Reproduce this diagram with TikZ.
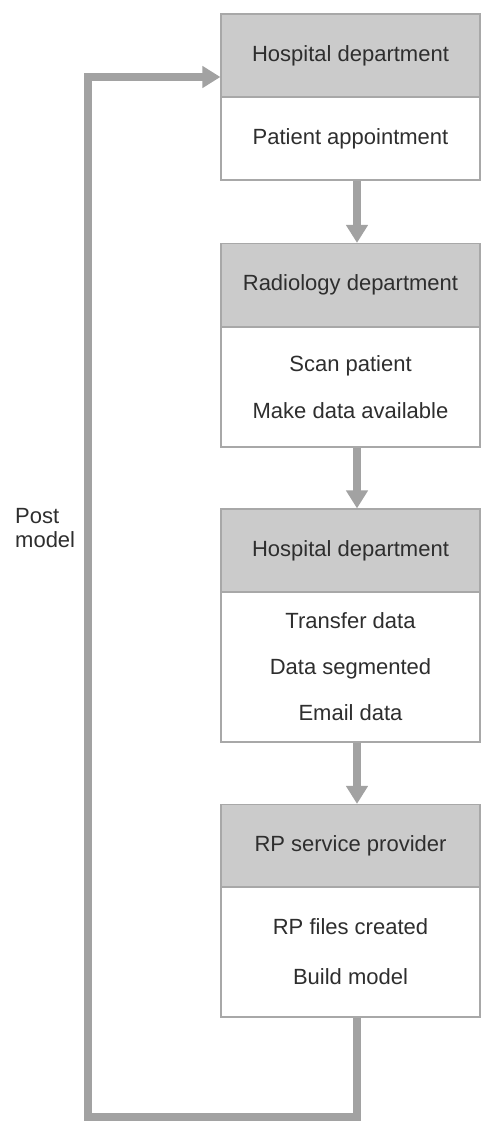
\documentclass[tikz,border=0pt]{standalone}
\usepackage{fontspec}
\setmainfont{Liberation Sans}
\usetikzlibrary{arrows.meta}
\definecolor{headgray}{HTML}{CBCBCB}
\definecolor{flowgray}{HTML}{A2A2A2}
\definecolor{edgegray}{HTML}{A8A8A8}
\definecolor{inkgray}{HTML}{2E2E2E}
\begin{document}
\begin{tikzpicture}[x=1pt, y=-1pt, font=\fontsize{22}{46}\selectfont, text=inkgray,
  head/.style={draw=edgegray, line width=1.2pt, fill=headgray, minimum width=259pt, minimum height=83pt, inner sep=0pt},
  body/.style={draw=edgegray, line width=1.2pt, fill=white, minimum width=259pt, align=center, inner sep=0pt},
  flow/.style={draw=flowgray, line width=8pt, line join=miter, -{Triangle[length=18pt, width=21pt]}}]
\useasboundingbox (0,0) rectangle (481,1121);

\coordinate (ax) at (357,0);
\coordinate (lt) at (88,77);
\coordinate (lb) at (88,1117);
\coordinate (rb) at (357,1117);

% hospital
\node[head] (h1) at (350.5,55.5) {Hospital department};
\node[body, minimum height=83pt] (b1) at (350.5,138.5) {Patient appointment};

% radiology
\node[head] (h2) at (350.5,285) {Radiology department};
\node[body, minimum height=120pt] (b2) at (350.5,387) {Scan patient\\[1pt]Make data available};

% hospital again
\node[head] (h3) at (350.5,550.5) {Hospital department};
\node[body, minimum height=150pt] (b3) at (350.5,667) {Transfer data\\Data segmented\\Email data};

% RP provider
\node[head] (h4) at (350.5,846) {RP service provider};
\node[body, minimum height=130pt] (b4) at (350.5,952) {RP files created\\[4pt]Build model};

\draw[flow] (b1.south -| ax) -- (h2.north -| ax);
\draw[flow] (b2.south -| ax) -- (h3.north -| ax);
\draw[flow] (b3.south -| ax) -- (h4.north -| ax);

% loop back
\draw[flow] (b4.south -| ax) -- (rb) -- (lb) -- (lt) -- (h1.west |- lt);
\node[anchor=north west, align=left, inner sep=0pt, font=\fontsize{22}{24}\selectfont] (post) at (15,508) {Post\\model};

\end{tikzpicture}
\end{document}
